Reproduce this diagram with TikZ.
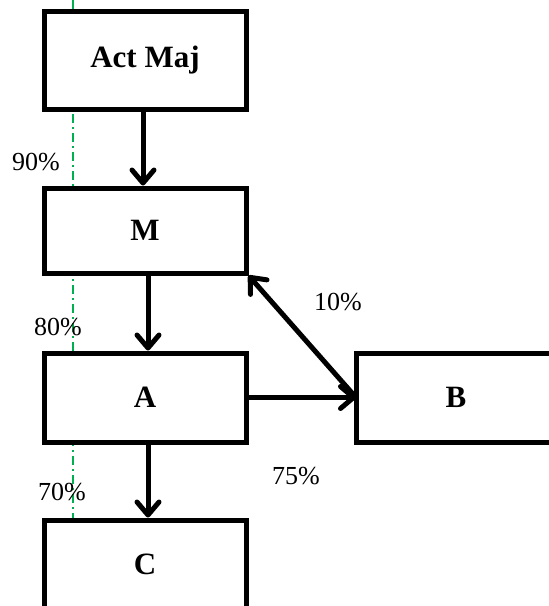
\documentclass[tikz,border=0pt]{standalone}
\usepackage{fontspec}
\setmainfont{Liberation Serif}
\usetikzlibrary{arrows.meta}
\definecolor{dashgreen}{RGB}{0,176,80}
\tikzset{
  box/.style={draw=black, fill=white, line width=5pt, inner sep=0pt, font=\fontsize{31}{33}\selectfont\bfseries},
  flow/.style={line width=5pt, line cap=round, -{Straight Barb[length=13pt,width=22pt,line width=5pt,round]}},
  pct/.style={font=\fontsize{26}{28}\selectfont, inner sep=0pt},
  guide/.style={draw=dashgreen, line width=2pt, dash pattern=on 9pt off 4pt on 2pt off 4pt}
}
\begin{document}
\begin{tikzpicture}[x=1pt,y=-1pt]
\useasboundingbox (0,0) rectangle (549,606);
\clip (0,0) rectangle (549,606);
\coordinate (gtop) at (73,0);
\coordinate (gbot) at (73,522);
\draw[guide] (gtop) -- (gbot);
\node[box, minimum width=202pt, minimum height=98pt] (act) at (145,60) {Act Maj};
\node[box, minimum width=202pt, minimum height=85pt] (m) at (145,230.5) {M};
\node[box, minimum width=202pt, minimum height=89pt] (a) at (145,397.5) {A};
\node[box, draw=none, outer sep=0pt, minimum width=200pt, minimum height=89pt] (b) at (456,397.5) {B};
\draw[line width=5pt] ([xshift=80pt]b.north east) -- (b.north west) -- (b.south west) -- ([xshift=80pt]b.south east);
\node[box, minimum width=202pt, minimum height=89pt] (c) at (145,564.5) {C};
\draw[flow] ([xshift=-2pt]act.south) -- ([xshift=-2pt]m.north);
\draw[flow] ([xshift=3pt]m.south) -- ([xshift=3pt]a.north);
\draw[flow] ([xshift=3pt]a.south) -- ([xshift=3pt]c.north);
\draw[flow] (a.east) -- (b.west);
\draw[flow] (b.west) -- (m.south east);
\node[pct] (p90) at (36,162) {90\%};
\node[pct] (p80) at (58,327) {80\%};
\node[pct] (p70) at (62,492) {70\%};
\node[pct] (p10) at (338,302) {10\%};
\node[pct] (p75) at (296,476) {75\%};
\end{tikzpicture}
\end{document}
